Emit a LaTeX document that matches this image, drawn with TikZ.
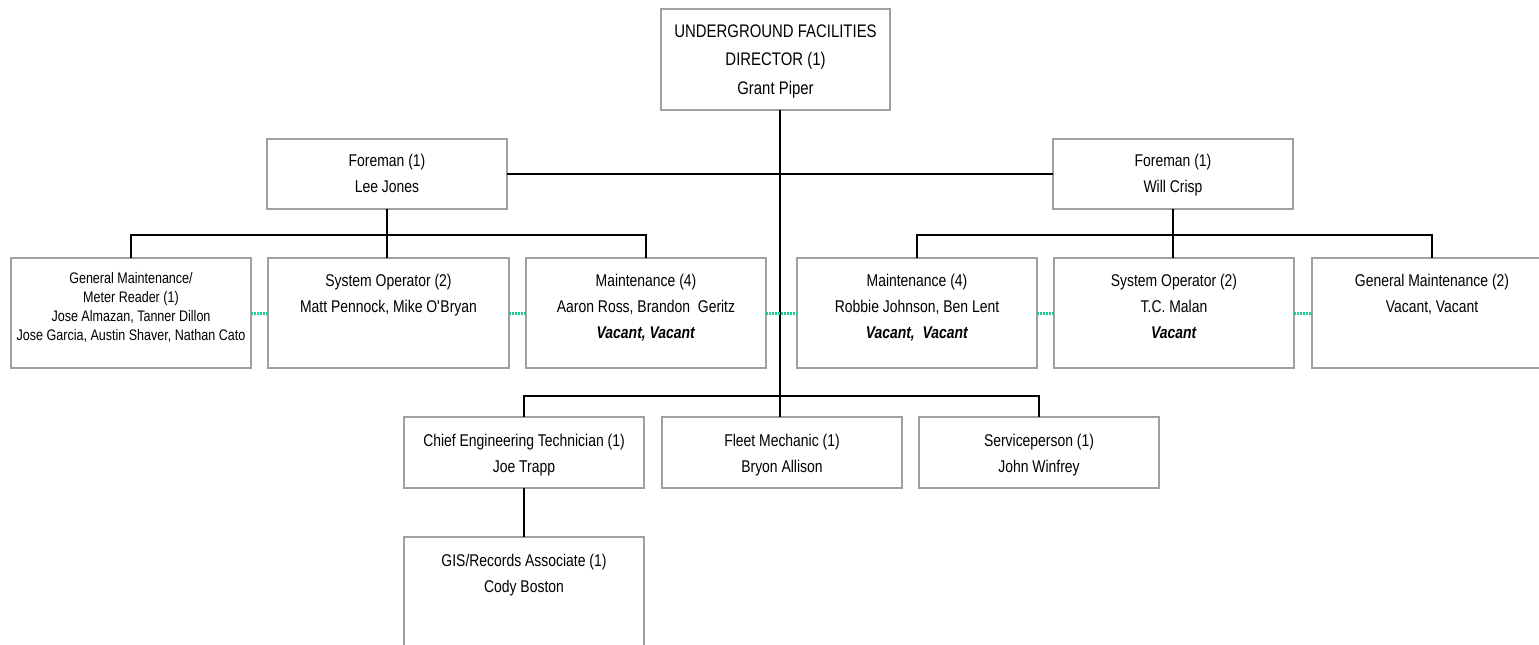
\documentclass[tikz,border=0pt]{standalone}
\usepackage{fontspec}
\setmainfont{Liberation Sans}[FakeStretch=0.82]
\newcommand{\obox}[4]{\parbox[c][#2pt][t]{#1pt}{\centering\rule{0pt}{#3pt}#4}}
\newcommand{\vac}[1]{\textbf{\textit{#1}}}
\definecolor{bordergray}{RGB}{160,160,160}
\definecolor{dotgreen}{RGB}{30,204,154}
\begin{document}
\begin{tikzpicture}[x=1pt,y=-1pt,
  obx/.style={draw=bordergray, line width=2pt, fill=white, inner sep=0pt, outer sep=0pt, anchor=north west},
  fmain/.style={font=\fontsize{17}{26}\selectfont},
  fdir/.style={font=\fontsize{18.2}{28}\selectfont},
  fsmall/.style={font=\fontsize{15.3}{19}\selectfont},
  conn/.style={line width=2.8pt, black},
  dotl/.style={dotgreen, line width=3pt, dash pattern=on 2pt off 1pt}]
\useasboundingbox (0,0) rectangle (1539,645);
\clip (0,0) rectangle (1539,645);

% boxes
\node[obx, fdir] (dir) at (661,9) {\obox{229}{101}{29}{UNDERGROUND FACILITIES\\DIRECTOR (1)\\Grant Piper}};
\node[obx, fmain] (fL) at (267,139) {\obox{240}{70}{27}{Foreman (1)\\Lee Jones}};
\node[obx, fmain] (fR) at (1053,139) {\obox{240}{70}{27}{Foreman (1)\\Will Crisp}};

\node[obx, fsmall] (b1) at (11,258) {\obox{240}{110}{25}{General Maintenance/\\Meter Reader (1)\\Jose Almazan, Tanner Dillon\\Jose Garcia, Austin Shaver, Nathan Cato}};
\node[obx, fmain] (b2) at (268,258) {\obox{241}{110}{28}{System Operator (2)\\Matt Pennock, Mike O\textquotesingle Bryan}};
\node[obx, fmain] (b3) at (526,258) {\obox{240}{110}{28}{Maintenance (4)\\Aaron Ross, Brandon\ \ Geritz\\\vac{Vacant, Vacant}}};
\node[obx, fmain] (b4) at (797,258) {\obox{240}{110}{28}{Maintenance (4)\\Robbie Johnson, Ben Lent\\\vac{Vacant,\ \ Vacant}}};
\node[obx, fmain] (b5) at (1054,258) {\obox{240}{110}{28}{System Operator (2)\\T.C. Malan\\\vac{Vacant}}};
\node[obx, fmain] (b6) at (1312,258) {\obox{240}{110}{28}{General Maintenance (2)\\Vacant, Vacant}};

\node[obx, fmain] (b7) at (404,417) {\obox{240}{71}{29}{Chief Engineering Technician (1)\\Joe Trapp}};
\node[obx, fmain] (b8) at (662,417) {\obox{240}{71}{29}{Fleet Mechanic (1)\\Bryon Allison}};
\node[obx, fmain] (b9) at (919,417) {\obox{240}{71}{29}{Serviceperson (1)\\John Winfrey}};
\node[obx, fmain] (b10) at (404,537) {\obox{240}{130}{29}{GIS/Records Associate (1)\\Cody Boston}};

% connectors
\coordinate (trunk) at (780,396);
\draw[conn] (dir.south -| trunk) -- (b8.north -| trunk);
\draw[conn] (fL.east) -- (fR.west);

\draw[conn] (fL.south) -- (fL.south |- b2.north);
\draw[conn] (b1.north) -- ++(0,-23) -| (b3.north);
\draw[conn] (fR.south) -- (fR.south |- b5.north);
\draw[conn] (b4.north) -- ++(0,-23) -| (b6.north);

\draw[conn] (b7.north) -- ++(0,-21) -| (b9.north);
\draw[conn] (b7.south) -- (b10.north);

\draw[dotl] (b1.east) -- (b2.west);
\draw[dotl] (b2.east) -- (b3.west);
\draw[dotl] (b3.east) -- (b4.west);
\draw[dotl] (b4.east) -- (b5.west);
\draw[dotl] (b5.east) -- (b6.west);
\end{tikzpicture}
\end{document}
